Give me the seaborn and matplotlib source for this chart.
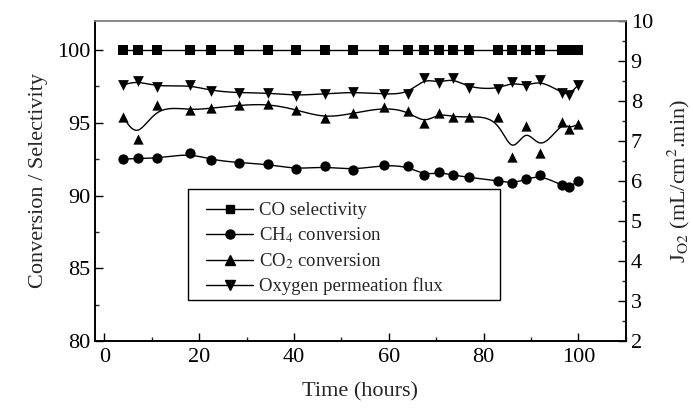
import numpy as np
import matplotlib
matplotlib.use("Agg")
import matplotlib.pyplot as plt
import seaborn as sns
from matplotlib.lines import Line2D
from matplotlib.patches import Rectangle
from matplotlib.ticker import MultipleLocator

# time on stream (hours)
time_h = [4, 7, 11, 18, 22.5, 28.5, 34.5, 40.5, 46.5, 52.5, 59, 64, 67.5, 70.5,
          73.5, 77, 83, 86, 89, 92, 96.5, 98, 100]
co_selectivity = [100] * 23
ch4_conversion = [92.5, 92.55, 92.55, 92.9, 92.45, 92.25, 92.15, 91.8, 92.0, 91.75,
                  92.1, 92.0, 91.4, 91.6, 91.4, 91.25, 91.0, 90.85, 91.1, 91.4,
                  90.7, 90.55, 91.0]
co2_conversion = [95.4, 93.85, 96.2, 95.85, 96.0, 96.2, 96.3, 95.9, 95.3, 95.65,
                  96.05, 95.8, 94.95, 95.65, 95.4, 95.4, 95.4, 92.65, 94.8, 92.95,
                  95.05, 94.6, 94.9]
o2_flux = [8.4, 8.5, 8.35, 8.4, 8.25, 8.2, 8.2, 8.13, 8.18, 8.22, 8.17, 8.17, 8.57,
           8.44, 8.57, 8.32, 8.29, 8.47, 8.36, 8.52, 8.2, 8.15, 8.4]


def bspline(x, y, n=30):
    """Clamped uniform cubic B-spline through control points (x, y)."""
    px = np.r_[[x[0]] * 2, x, [x[-1]] * 2]
    py = np.r_[[y[0]] * 2, y, [y[-1]] * 2]
    t = np.linspace(0, 1, n, endpoint=False)
    b0 = (1 - t) ** 3 / 6
    b1 = (3 * t ** 3 - 6 * t ** 2 + 4) / 6
    b2 = (-3 * t ** 3 + 3 * t ** 2 + 3 * t + 1) / 6
    b3 = t ** 3 / 6
    xs, ys = [], []
    for i in range(len(px) - 3):
        xs.append(b0 * px[i] + b1 * px[i + 1] + b2 * px[i + 2] + b3 * px[i + 3])
        ys.append(b0 * py[i] + b1 * py[i + 1] + b2 * py[i + 2] + b3 * py[i + 3])
    xs.append([x[-1]])
    ys.append([y[-1]])
    return np.concatenate(xs), np.concatenate(ys)


sns.set_style("ticks")
plt.rcParams["font.family"] = ["Liberation Serif", "DejaVu Serif"]
plt.rcParams["mathtext.fontset"] = "stix"
plt.rcParams["xtick.direction"] = "in"
plt.rcParams["ytick.direction"] = "in"

fig, ax = plt.subplots(figsize=(6.93, 4.08), dpi=100)
fig.subplots_adjust(left=0.137, right=0.903, bottom=0.164, top=0.949)
ax2 = ax.twinx()

left_series = [(co_selectivity, "s", 42), (ch4_conversion, "o", 55), (co2_conversion, "^", 55)]
for vals, mk, sz in left_series:
    sx, sy = bspline(np.array(time_h, float), np.array(vals, float))
    sns.lineplot(x=sx, y=sy, ax=ax, color="black", lw=1, sort=False, estimator=None)
    sns.scatterplot(x=time_h, y=vals, ax=ax, marker=mk, s=sz, color="black",
                    edgecolor="black", linewidth=0, zorder=3)

sx, sy = bspline(np.array(time_h, float), np.array(o2_flux, float))
sns.lineplot(x=sx, y=sy, ax=ax2, color="black", lw=1, sort=False, estimator=None)
sns.scatterplot(x=time_h, y=o2_flux, ax=ax2, marker="v", s=60, color="black",
                edgecolor="black", linewidth=0, zorder=3)

ax.set_xlim(-2, 110)
ax.set_ylim(80, 102)
ax2.set_ylim(2, 10)
ax.xaxis.set_major_locator(MultipleLocator(20))
ax.xaxis.set_minor_locator(MultipleLocator(10))
ax.yaxis.set_major_locator(MultipleLocator(5))
ax.yaxis.set_minor_locator(MultipleLocator(2.5))
ax2.yaxis.set_major_locator(MultipleLocator(1))
ax2.yaxis.set_minor_locator(MultipleLocator(0.5))

for a in (ax, ax2):
    a.tick_params(which="major", length=6, width=1, labelsize=16, colors="black")
    a.tick_params(which="minor", length=3, width=1)
    for side in ("left", "right", "bottom"):
        a.spines[side].set_linewidth(1.2)
        a.spines[side].set_color("black")
    a.spines["top"].set_color("#888888")
    a.spines["top"].set_linewidth(1.2)
ax.tick_params(axis="x", pad=5)

ax.set_xlabel("Time (hours)", fontsize=16, labelpad=11)
ax.set_ylabel("Conversion / Selectivity", fontsize=16, labelpad=6)
ax2.set_ylabel(r"J$_{\mathrm{O2}}$ (mL/cm$^2$.min)", fontsize=16, labelpad=9)

# legend: frame drawn separately so its padding matches the original box
ax2.add_patch(Rectangle((0.175, 0.128), 0.588, 0.347, transform=ax2.transAxes,
                        fill=True, facecolor="white", edgecolor="black", lw=1, zorder=4))
handles = [Line2D([], [], color="black", lw=1, marker=m, markersize=ms)
           for m, ms in (("s", 5.5), ("o", 6.5), ("^", 6.5), ("v", 6.5))]
labels = ["CO selectivity", r"CH$_4$ conversion", r"CO$_2$ conversion",
          "Oxygen permeation flux"]
leg = ax2.legend(handles, labels, loc="upper left", bbox_to_anchor=(0.175, 0.49),
                 fontsize=13.5, handlelength=2.55, labelspacing=0.34,
                 frameon=False, borderaxespad=0, handletextpad=0.3, borderpad=0.95)
leg.set_zorder(5)

fig.savefig("out.png", dpi=100)
